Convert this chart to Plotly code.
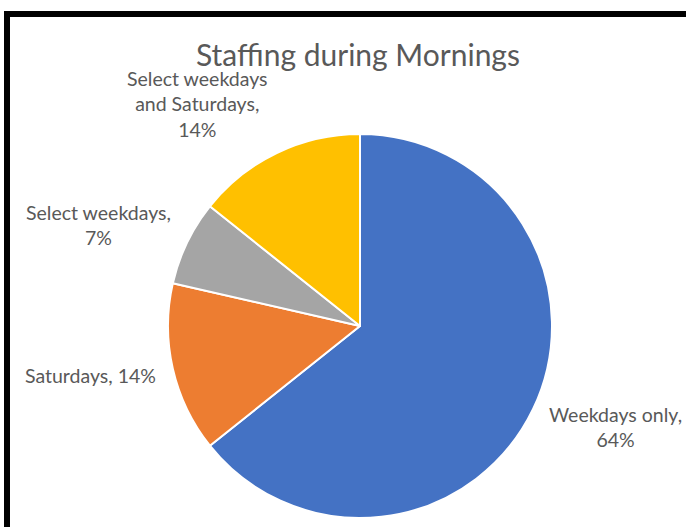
import math
import plotly.graph_objects as go

categories = ["Weekdays only", "Saturdays", "Select weekdays", "Select weekdays and Saturdays"]
counts = [9, 2, 1, 2]
label_lines = [["Weekdays only,"], ["Saturdays,"], ["Select weekdays,"], ["Select weekdays", "and Saturdays,"]]
colors = ["#4472C4", "#ED7D31", "#A5A5A5", "#FFC000"]

W, H = 686, 527
cx, cy, R = 360, 326, 192
FONT = "Lato, Carlito, sans-serif"
LABEL_SIZE = 19.5
LINE_H = 26

fig = go.Figure(go.Pie(
    labels=categories,
    values=counts,
    textinfo="none",
    marker=dict(colors=colors, line=dict(color="white", width=2)),
    sort=False,
    direction="clockwise",
    rotation=0,
    showlegend=False,
    hoverinfo="label+percent",
    domain=dict(x=[(cx - R) / W, (cx + R) / W], y=[1 - (cy + R) / H, 1 - (cy - R) / H]),
))

# Excel-style outside data labels, positioned from each slice's mid-angle
total = sum(counts)
annotations = []
cum = 0
for name_lines, v in zip(label_lines, counts):
    mid = (cum + v / 2) / total * 2 * math.pi
    cum += v
    dx, dy = math.sin(mid), -math.cos(mid)
    px, py = cx + 1.08 * R * dx, cy + 1.08 * R * dy
    pct = f"{round(v / total * 100)}%"
    if len(name_lines) == 1 and len(name_lines[0]) < 12:
        lines = [name_lines[0] + " " + pct]
    else:
        lines = name_lines + [pct]
    h = len(lines) * LINE_H
    py_c = py + dy * h / 2
    annotations.append(dict(
        text="<br>".join(lines), xref="paper", yref="paper",
        x=px / W, y=1 - py_c / H,
        xanchor="left" if dx > 0 else "right", yanchor="middle", align="center",
        showarrow=False, font=dict(family=FONT, size=LABEL_SIZE, color="#595959"),
    ))

fig.update_layout(
    width=W, height=H,
    margin=dict(l=0, r=0, t=0, b=0),
    paper_bgcolor="white",
    title=dict(text="Staffing during Mornings", x=358 / W, xanchor="center",
               y=1 - 55 / H, yanchor="middle",
               font=dict(family=FONT, size=30, color="#595959")),
    annotations=annotations,
    shapes=[dict(type="path", xref="paper", yref="paper",
                 path=f"M {7 / W},0 L {7 / W},{1 - 14 / H} L 1,{1 - 14 / H}",
                 line=dict(color="black", width=6))],
)

fig.write_html("out.html")
